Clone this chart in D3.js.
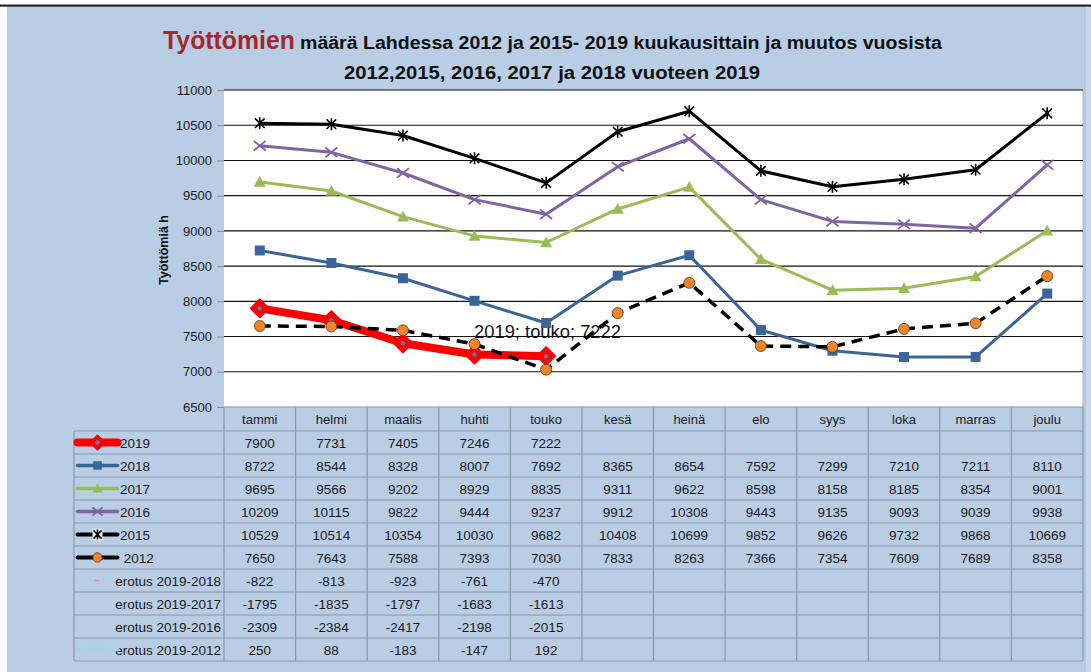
<!DOCTYPE html>
<html><head><meta charset="utf-8">
<script src="https://cdn.jsdelivr.net/npm/d3@7"></script>
<style>html,body{margin:0;padding:0;background:#fff;}svg{display:block;}</style>
</head><body>
<script>
// ---- data ----
const months = ["tammi","helmi","maalis","huhti","touko","kesä","heinä","elo","syys","loka","marras","joulu"];
const yTicks = [6500,7000,7500,8000,8500,9000,9500,10000,10500,11000];
const v2019 = [7900,7731,7405,7246,7222];
const v2018 = [8722,8544,8328,8007,7692,8365,8654,7592,7299,7210,7211,8110];
const v2017 = [9695,9566,9202,8929,8835,9311,9622,8598,8158,8185,8354,9001];
const v2016 = [10209,10115,9822,9444,9237,9912,10308,9443,9135,9093,9039,9938];
const v2015 = [10529,10514,10354,10030,9682,10408,10699,9852,9626,9732,9868,10669];
const v2012 = [7650,7643,7588,7393,7030,7833,8263,7366,7354,7609,7689,8358];
const d2019_2018 = [-822,-813,-923,-761,-470];
const d2019_2017 = [-1795,-1835,-1797,-1683,-1613];
const d2019_2016 = [-2309,-2384,-2417,-2198,-2015];
const d2019_2012 = [250,88,-183,-147,192];
const rowNames = ["2019","2018","2017","2016","2015"," 2012","erotus 2019-2018","erotus 2019-2017","erotus 2019-2016","erotus 2019-2012"];
const titleRed = "Työttömien";
const titleRest = "määrä Lahdessa 2012 ja 2015- 2019 kuukausittain ja muutos vuosista";
const titleLine2 = "2012,2015, 2016, 2017 ja 2018 vuoteen 2019";
const yTitle = "Työttömiä h";
const dataLabel = "2019; touko; 7222";

const rows = [
  {name:rowNames[0], vals:v2019, key:"s2019"},
  {name:rowNames[1], vals:v2018, key:"s2018"},
  {name:rowNames[2], vals:v2017, key:"s2017"},
  {name:rowNames[3], vals:v2016, key:"s2016"},
  {name:rowNames[4], vals:v2015, key:"s2015"},
  {name:rowNames[5], vals:v2012, key:"s2012"},
  {name:rowNames[6], vals:d2019_2018, key:"d1"},
  {name:rowNames[7], vals:d2019_2017, key:"d2"},
  {name:rowNames[8], vals:d2019_2016, key:"d3"},
  {name:rowNames[9], vals:d2019_2012, key:"d4"}
];

const styles = {
  s2019:{color:"#ff0000", width:8, marker:"diamond", size:18},
  s2018:{color:"#3a6597", width:3, marker:"square", size:10},
  s2017:{color:"#9bbb59", width:3, marker:"triangle", size:12},
  s2016:{color:"#8064a2", width:3, marker:"x", size:12},
  s2015:{color:"#000000", width:3, marker:"star", size:12},
  s2012:{color:"#000000", width:3.5, marker:"circle", size:11, dash:"11,7", fill:"#f0862a"}
};

// ---- layout ----
const W=1091, H=672;
const PL=224, PR=1083, PT=90, PB=407;
const TL=74, headH=24, rowH=23;
const FONT="'Liberation Sans', Arial, sans-serif";

const svg = d3.select("body").append("svg").attr("width",W).attr("height",H);

// background
svg.append("rect").attr("x",0).attr("y",0).attr("width",W).attr("height",H).attr("fill","#ffffff");
svg.append("rect").attr("x",7).attr("y",6).attr("width",1078).attr("height",H-6).attr("fill","#b9cde5");
svg.append("rect").attr("x",1085).attr("y",6).attr("width",6).attr("height",H-6).attr("fill","#c8d8ec");
svg.append("line").attr("x1",1085).attr("x2",1085).attr("y1",6).attr("y2",H).attr("stroke","#a9bcd4").attr("stroke-width",1);
svg.append("rect").attr("x",0).attr("y",4.5).attr("width",W).attr("height",2.2).attr("fill","#262626");

// title
svg.append("text").attr("x",163).attr("y",49).attr("font-family",FONT).attr("font-weight","bold")
  .attr("font-size",25).attr("fill","#a3282e").attr("textLength",132).attr("lengthAdjust","spacingAndGlyphs").text(titleRed);
svg.append("text").attr("x",300).attr("y",49).attr("font-family",FONT).attr("font-weight","bold")
  .attr("font-size",17.5).attr("fill","#111").attr("textLength",642).attr("lengthAdjust","spacingAndGlyphs").text(titleRest);
svg.append("text").attr("x",344).attr("y",79).attr("font-family",FONT).attr("font-weight","bold")
  .attr("font-size",17.5).attr("fill","#111").attr("textLength",416).attr("lengthAdjust","spacingAndGlyphs").text(titleLine2);

// scales
const x = d3.scaleBand().domain(months).range([PL,PR]).padding(0);
const y = d3.scaleLinear().domain([6500,11000]).range([PB,PT]);
const cx = m => x(m)+x.bandwidth()/2;

// plot area
svg.append("rect").attr("x",PL).attr("y",PT).attr("width",PR-PL).attr("height",PB-PT).attr("fill","#ffffff");
svg.append("line").attr("x1",PR).attr("x2",PR).attr("y1",PT).attr("y2",PB).attr("stroke","#bfbfbf");

// gridlines
svg.append("g").selectAll("line").data(yTicks.filter(t=>t>6500)).join("line")
  .attr("x1",PL).attr("x2",PR).attr("y1",d=>y(d)).attr("y2",d=>y(d))
  .attr("stroke","#111").attr("stroke-width",1.1);

// y axis
const yAxis = svg.append("g").attr("transform",`translate(${PL},0)`)
  .call(d3.axisLeft(y).tickValues(yTicks).tickSize(7).tickPadding(5).tickFormat(d3.format("d")));
yAxis.select(".domain").remove();
yAxis.selectAll(".tick line").attr("stroke","#8c8c8c");
yAxis.selectAll(".tick text").attr("font-family",FONT).attr("font-size",13).attr("fill","#1a1a1a");

svg.append("text").attr("transform",`translate(168,250) rotate(-90)`).attr("text-anchor","middle")
  .attr("font-family",FONT).attr("font-weight","bold").attr("font-size",12.5).attr("fill","#111").text(yTitle);

// marker drawing
function drawMarker(g, type, size, color, fill){
  const h=size/2;
  if(type==="diamond"){
    g.append("path").attr("d",`M0,${-h}L${h},0L0,${h}L${-h},0Z`).attr("fill",color).attr("stroke",color).attr("stroke-width",2).attr("stroke-linejoin","round");
    g.append("circle").attr("r",2.2).attr("fill","#5b7bb0");
  } else if(type==="square"){
    g.append("rect").attr("x",-h).attr("y",-h).attr("width",size).attr("height",size).attr("fill",color);
  } else if(type==="triangle"){
    g.append("path").attr("d",`M0,${-h}L${h},${h*0.8}L${-h},${h*0.8}Z`).attr("fill",color);
  } else if(type==="x"){
    g.append("path").attr("d",`M${-h},${-h*0.8}L${h},${h*0.8}M${-h},${h*0.8}L${h},${-h*0.8}`).attr("stroke",color).attr("stroke-width",1.8).attr("fill","none");
  } else if(type==="star"){
    g.append("path").attr("d",`M${-h*0.8},${-h*0.8}L${h*0.8},${h*0.8}M${-h*0.8},${h*0.8}L${h*0.8},${-h*0.8}M0,${-h}L0,${h}`).attr("stroke",color).attr("stroke-width",1.6).attr("fill","none");
  } else if(type==="circle"){
    g.append("circle").attr("r",h).attr("fill",fill).attr("stroke","#5a3510").attr("stroke-width",0.8);
  }
}

// series lines
const line = d3.line().x((d,i)=>cx(months[i])).y(d=>y(d));
["s2019","s2018","s2017","s2016","s2015","s2012"].forEach(k=>{
  const r = rows.find(r=>r.key===k); const st = styles[k];
  const g = svg.append("g");
  g.append("path").attr("d",line(r.vals)).attr("fill","none").attr("stroke",st.color)
    .attr("stroke-width",st.width).attr("stroke-linejoin","round").attr("stroke-linecap", st.dash?"butt":"round")
    .attr("stroke-dasharray",st.dash||null);
  r.vals.forEach((v,i)=>{
    const mg = g.append("g").attr("transform",`translate(${cx(months[i])},${y(v)})`);
    drawMarker(mg, st.marker, st.size, st.color, st.fill);
  });
});

// data label
svg.append("text").attr("x",474).attr("y",338).attr("font-family",FONT).attr("font-size",18)
  .attr("fill","#111").attr("textLength",147).attr("lengthAdjust","spacingAndGlyphs").text(dataLabel);

// ---- data table ----
const tbl = svg.append("g");
const gridC = "#8a96a8";
// header cells
tbl.selectAll("text.hd").data(months).join("text").attr("class","hd")
  .attr("x",d=>cx(d)).attr("y",PB+17).attr("text-anchor","middle")
  .attr("font-family",FONT).attr("font-size",13).attr("fill","#1a1a1a").text(d=>d);
const tableBottom = PB+headH+rowH*rows.length;
// horizontal lines
tbl.append("line").attr("x1",PL).attr("x2",PR).attr("y1",PB).attr("y2",PB).attr("stroke",gridC).attr("stroke-width",1.2);
d3.range(rows.length+1).forEach(i=>{
  const yy = PB+headH+i*rowH;
  tbl.append("line").attr("x1",TL).attr("x2",PR).attr("y1",yy).attr("y2",yy).attr("stroke",gridC).attr("stroke-width",1.2);
});
// vertical lines
tbl.append("line").attr("x1",TL).attr("x2",TL).attr("y1",PB+headH).attr("y2",tableBottom).attr("stroke",gridC).attr("stroke-width",1.2);
months.forEach(m=>{
  tbl.append("line").attr("x1",x(m)).attr("x2",x(m)).attr("y1",PB).attr("y2",tableBottom).attr("stroke",gridC).attr("stroke-width",1.2);
});
tbl.append("line").attr("x1",PR).attr("x2",PR).attr("y1",PB).attr("y2",tableBottom).attr("stroke",gridC).attr("stroke-width",1.2);

rows.forEach((r,ri)=>{
  const yc = PB+headH+ri*rowH + rowH/2;
  // values
  r.vals.forEach((v,i)=>{
    tbl.append("text").attr("x",cx(months[i])).attr("y",yc+5).attr("text-anchor","middle")
      .attr("font-family",FONT).attr("font-size",13.5).attr("fill","#1a1a1a").text(v);
  });
  // label
  const isD = r.key.startsWith("d");
  tbl.append("text").attr("x",isD?221:120).attr("y",yc+5).attr("text-anchor",isD?"end":"start")
    .attr("font-family",FONT).attr("font-size",13.5).attr("fill","#1a1a1a").attr("xml:space","preserve").text(r.name);
  // legend key
  const kg = tbl.append("g").attr("transform",`translate(97.5,${yc})`);
  if(styles[r.key]){
    const st = styles[r.key];
    kg.append("line").attr("x1",-20).attr("x2",20).attr("stroke",st.color)
      .attr("stroke-width", r.key==="s2019"?8:(r.key==="s2015"||r.key==="s2012")?4:3.5).attr("stroke-linecap","round");
    if(st.marker==="star"){
      kg.append("rect").attr("x",-5).attr("y",-6).attr("width",10).attr("height",12).attr("fill","#e8e8e8");
    }
    drawMarker(kg, st.marker, st.marker==="diamond"?14:st.size*0.85, st.color, st.fill);
  } else if(r.key==="d1"){
    kg.append("line").attr("x1",-3).attr("x2",2).attr("stroke","#f08aa0").attr("stroke-width",1.5);
  } else if(r.key==="d4"){
    kg.append("line").attr("x1",-20).attr("x2",20).attr("stroke","#a6d3dc").attr("stroke-width",4).attr("stroke-linecap","round");
    kg.append("rect").attr("x",-6).attr("y",-4).attr("width",12).attr("height",8).attr("fill","none").attr("stroke","#a6d3dc").attr("stroke-width",1);
  }
});
</script>
</body></html>
